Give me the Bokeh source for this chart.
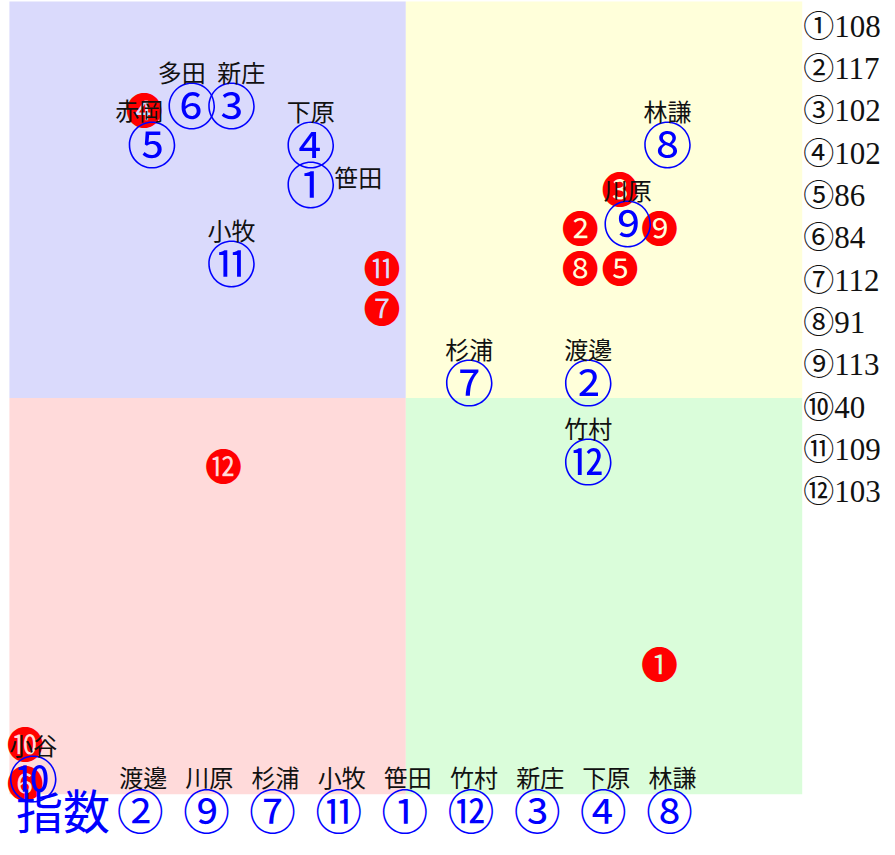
from bokeh.plotting import figure
from bokeh.models import Range1d, ColumnDataSource
from bokeh.core.properties import value
from bokeh.embed import file_html
from bokeh.resources import INLINE

# ---------------- data ----------------
numbers = list(range(1, 13))
names = ["笹田", "渡邊", "新庄", "下原", "赤岡", "多田", "杉浦", "林謙", "川原", "小谷", "小牧", "竹村"]
index_values = [108, 117, 102, 102, 86, 84, 112, 91, 113, 40, 109, 103]
# current grid cell (column, row from top) of each member
cur_col = [7, 14, 5, 7, 3, 4, 11, 16, 15, 0, 5, 14]
cur_row = [4, 9, 2, 3, 3, 2, 9, 3, 5, 19, 6, 11]
# previous grid cell (red markers)
prev_col = [16, 14, 15, 3, 15, 0, 9, 14, 16, 0, 9, 5]
prev_row = [16, 5, 4, 2, 6, 19, 7, 6, 5, 18, 6, 11]
# where the name label sits relative to the marker
label_side = ["east", "above", "above_r", "above", "above_l2", "above_l", "above", "above",
              "above", "above", "above", "above"]
index_title = "指数"
index_threshold = 90

circled = "①②③④⑤⑥⑦⑧⑨⑩⑪⑫"
neg_circled = "❶❷❸❹❺❻❼❽❾❿⓫⓬"

# ---------------- layout ----------------
W, H = 887, 847
S = 0.991            # overall scale
CELL = 40.0 * S      # pixels per grid cell
OX, OY = 9.0 * S, 1.0 * S
GRID = 20

p = figure(width=W, height=H, output_backend="svg", toolbar_location=None,
           x_axis_type=None, y_axis_type=None,
           x_range=Range1d(-OX / CELL, (W - OX) / CELL),
           y_range=Range1d((H - OY) / CELL, -OY / CELL),
           min_border=0, min_border_left=0, min_border_right=0,
           min_border_top=0, min_border_bottom=0)
p.outline_line_color = None
p.grid.visible = False
p.background_fill_color = "white"
p.border_fill_color = "white"

half = GRID / 2
quad_src = ColumnDataSource(dict(
    left=[0, half, 0, half], right=[half, GRID, half, GRID],
    top=[0, 0, half, half], bottom=[half, half, GRID, GRID],
    color=["#DADAFC", "#FFFFDA", "#FFDADA", "#DAFDDA"]))
p.quad(left="left", right="right", top="top", bottom="bottom", fill_color="color",
       line_color=None, source=quad_src)

CJK = value("Noto Sans CJK JP")

# previous positions (red)
red_src = ColumnDataSource(dict(x=[c + 0.4 for c in prev_col], y=[r + 0.7 for r in prev_row],
                                t=[neg_circled[n - 1] for n in numbers]))
p.text(x="x", y="y", text="t", source=red_src, text_color="#FF0000", text_font=CJK,
       text_font_size="37px", text_align="center", text_baseline="middle")

# current positions (blue)
blue_src = ColumnDataSource(dict(x=[c + 0.6 for c in cur_col], y=[r + 0.55 for r in cur_row],
                                 t=[circled[n - 1] for n in numbers]))
p.text(x="x", y="y", text="t", source=blue_src, text_color="#0000FF", text_font=CJK,
       text_font_size="50px", text_align="center", text_baseline="middle")

# name labels
side_offset = {"above": (0.6, -0.25), "above_l": (0.35, -0.225), "above_r": (0.85, -0.225),
               "above_l2": (0.275, -0.275), "east": (1.8, 0.425)}
lx, ly = [], []
for c, r, s in zip(cur_col, cur_row, label_side):
    dx, dy = side_offset[s]
    lx.append(c + dx)
    ly.append(r + dy)
lab_src = ColumnDataSource(dict(x=lx, y=ly, t=names))
p.text(x="x", y="y", text="t", source=lab_src, text_color="#111111", text_font=CJK,
       text_font_size="24px", text_align="center", text_baseline="middle")

# right-hand list of index values
list_src = ColumnDataSource(dict(x=[GRID + 0.025] * len(numbers),
                                 y=[0.625 + i * 1.068 for i in range(len(numbers))],
                                 t=[f"{circled[n - 1]}{v}" for n, v in zip(numbers, index_values)]))
p.text(x="x", y="y", text="t", source=list_src, text_color="#111111",
       text_font=value("Liberation Serif, Noto Sans CJK JP"),
       text_font_size="31px", text_align="left", text_baseline="middle")

# bottom ranking row
ranked = sorted([i for i in range(len(numbers)) if index_values[i] >= index_threshold],
                key=lambda i: -index_values[i])
row_x0 = 3.3
row_step = 1.669
row_y = 20.35
name_y = 19.55
rank_src = ColumnDataSource(dict(x=[row_x0 + k * row_step for k in range(len(ranked))],
                                 y=[row_y] * len(ranked),
                                 t=[circled[numbers[i] - 1] for i in ranked]))
p.text(x="x", y="y", text="t", source=rank_src, text_color="#0000FF", text_font=CJK,
       text_font_size="47px", text_align="center", text_baseline="middle")
rname_src = ColumnDataSource(dict(x=[row_x0 + 0.075 + k * row_step for k in range(len(ranked))],
                                  y=[name_y] * len(ranked),
                                  t=[names[i] for i in ranked]))
p.text(x="x", y="y", text="t", source=rname_src, text_color="#111111", text_font=CJK,
       text_font_size="24px", text_align="center", text_baseline="middle")
p.text(x=[1.35], y=[row_y], text=[index_title], text_color="#0000FF", text_font=CJK,
       text_font_size="47px", text_align="center", text_baseline="middle")

open("out.html", "w").write(file_html(p, INLINE))
